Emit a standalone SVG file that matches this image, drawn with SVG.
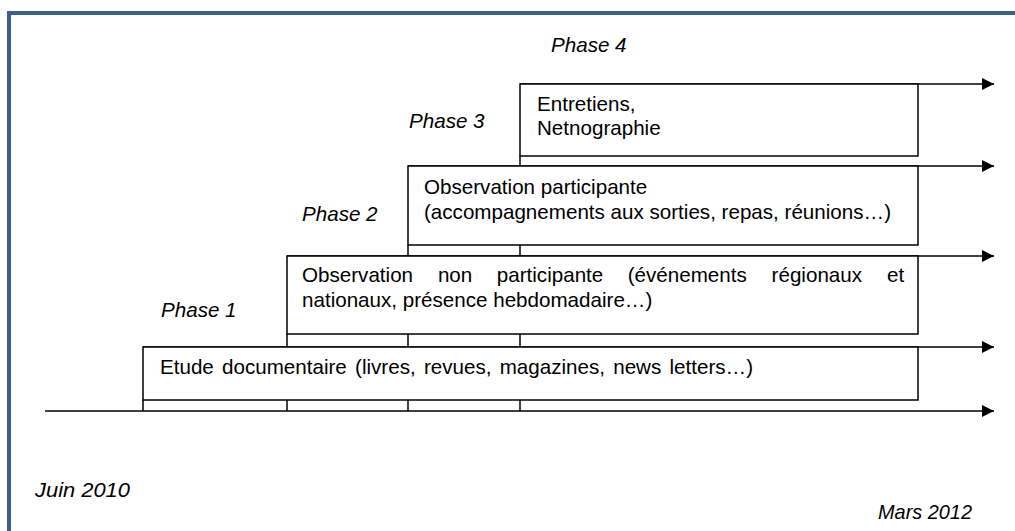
<svg xmlns="http://www.w3.org/2000/svg" width="1015" height="531" viewBox="0 0 1015 531">
  <style>
    .frame { fill: #ffffff; stroke: #3B5F8E; stroke-width: 4; }
    .box { fill: #ffffff; stroke: #000000; stroke-width: 1.5; }
    .line { fill: none; stroke: #000000; stroke-width: 1.5; }
    .txt { font-family: "Liberation Sans", Arial, sans-serif; font-size: 20.6px; fill: #000000; }
    .it { font-style: italic; }
  </style>
  <defs>
    <marker id="arrow" markerUnits="userSpaceOnUse" markerWidth="13" markerHeight="13" refX="12" refY="6.5" orient="auto">
      <path d="M0,0.5 L12,6.5 L0,12.5 Z" fill="#000000"/>
    </marker>
  </defs>

  <!-- page frame -->
  <rect class="frame" x="9" y="13" width="1030" height="540"/>

  <!-- timeline connectors (drawn under the boxes) -->
  <g id="connectors">
    <line class="line" x1="520" y1="84" x2="994" y2="84" marker-end="url(#arrow)"/>
    <line class="line" x1="408" y1="166" x2="994" y2="166" marker-end="url(#arrow)"/>
    <line class="line" x1="287" y1="256" x2="994" y2="256" marker-end="url(#arrow)"/>
    <line class="line" x1="143" y1="347" x2="994" y2="347" marker-end="url(#arrow)"/>
    <line class="line" x1="45" y1="411" x2="994" y2="411" marker-end="url(#arrow)"/>
    <line class="line" x1="520" y1="156" x2="520" y2="411"/>
    <line class="line" x1="408" y1="245" x2="408" y2="411"/>
    <line class="line" x1="287" y1="334" x2="287" y2="411"/>
    <line class="line" x1="143" y1="400" x2="143" y2="411"/>
  </g>

  <!-- phase boxes -->
  <g id="phase4">
    <rect class="box" x="520" y="84" width="398" height="72"/>
    <text class="txt" x="537" y="111">Entretiens,</text>
    <text class="txt" x="537" y="135">Netnographie</text>
  </g>
  <g id="phase3">
    <rect class="box" x="408" y="166" width="510" height="79"/>
    <text class="txt" x="424" y="194">Observation participante</text>
    <text class="txt" x="424" y="219">(accompagnements aux sorties, repas, réunions…)</text>
  </g>
  <g id="phase2">
    <rect class="box" x="287" y="256" width="631" height="78"/>
    <text class="txt" y="282"><tspan x="302">Observation</tspan><tspan x="437.9">non</tspan><tspan x="496.8">participante</tspan><tspan x="627.7">(événements</tspan><tspan x="771.6">régionaux</tspan><tspan x="887.1">et</tspan></text>
    <text class="txt" x="302" y="307">nationaux, présence hebdomadaire…)</text>
  </g>
  <g id="phase1">
    <rect class="box" x="143" y="347" width="775" height="53"/>
    <text class="txt" x="160" y="374" word-spacing="2.5">Etude documentaire (livres, revues, magazines, news letters…)</text>
  </g>

  <!-- phase labels -->
  <g id="labels">
    <text class="txt it" x="551" y="52">Phase 4</text>
    <text class="txt it" x="409" y="128">Phase 3</text>
    <text class="txt it" x="302" y="221">Phase 2</text>
    <text class="txt it" x="161" y="317">Phase 1</text>
  </g>

  <!-- dates -->
  <g id="dates">
    <text class="txt it" x="35" y="497" font-size="19" textLength="95" lengthAdjust="spacingAndGlyphs">Juin 2010</text>
    <text class="txt it" x="878" y="519" font-size="19" textLength="94" lengthAdjust="spacingAndGlyphs">Mars 2012</text>
  </g>
</svg>
